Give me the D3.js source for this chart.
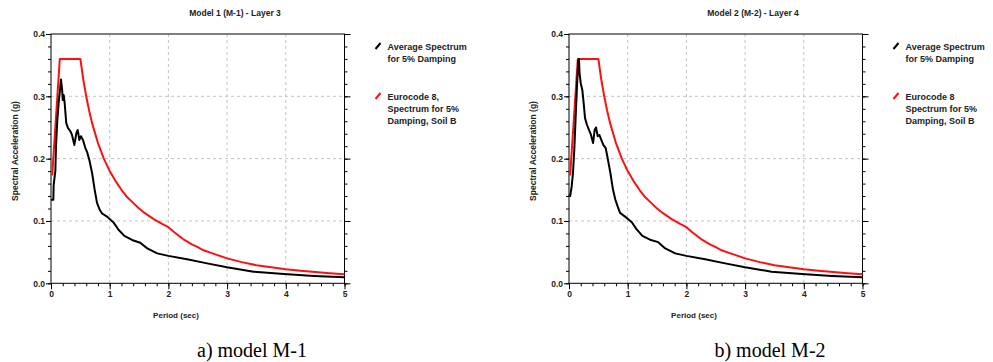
<!DOCTYPE html>
<html>
<head>
<meta charset="utf-8">
<script src="https://cdn.jsdelivr.net/npm/d3@7"></script>
<style>
  body { margin: 0; background: #fff; }
  text { font-family: "Liberation Sans", Arial, sans-serif; }
  text.caption { font-family: "Liberation Serif", "Times New Roman", serif; }
</style>
</head>
<body>
<div id="chart"></div>
<script>
const width = 993, height = 362;

// Eurocode 8 spectrum (same in both panels)
const ecPeriod = [0.02, 0.15, 0.5, 0.55, 0.6, 0.65, 0.7, 0.8, 0.9, 1.0, 1.1, 1.2, 1.3, 1.4, 1.5, 1.6, 1.75, 1.9, 2.0, 2.1, 2.25, 2.4, 2.5, 2.6, 2.75, 3.0, 3.25, 3.5, 3.75, 4.0, 4.25, 4.5, 4.75, 5.0];
const ecValue  = [0.173, 0.36, 0.36, 0.327, 0.30, 0.277, 0.257, 0.225, 0.20, 0.18, 0.164, 0.15, 0.138, 0.129, 0.12, 0.1125, 0.103, 0.095, 0.09, 0.082, 0.071, 0.0625, 0.058, 0.053, 0.048, 0.04, 0.034, 0.029, 0.0256, 0.0225, 0.02, 0.018, 0.016, 0.0144];

// Average spectrum, model M-1
const m1Period = [0, 0.04, 0.045, 0.074, 0.085, 0.108, 0.13, 0.153, 0.17, 0.19, 0.2, 0.216, 0.233, 0.26, 0.29, 0.33, 0.358, 0.398, 0.432, 0.455, 0.483, 0.51, 0.545, 0.585, 0.614, 0.653, 0.7, 0.744, 0.784, 0.83, 0.87, 0.955, 1.07, 1.15, 1.25, 1.38, 1.52, 1.64, 1.81, 2.0, 2.32, 2.66, 3.0, 3.45, 3.97, 4.48, 5.0];
const m1Value  = [0.134, 0.134, 0.158, 0.18, 0.22, 0.262, 0.289, 0.31, 0.327, 0.31, 0.294, 0.302, 0.289, 0.257, 0.249, 0.244, 0.238, 0.222, 0.241, 0.246, 0.23, 0.236, 0.23, 0.217, 0.211, 0.198, 0.177, 0.15, 0.129, 0.118, 0.112, 0.107, 0.097, 0.086, 0.076, 0.0695, 0.065, 0.056, 0.048, 0.044, 0.0385, 0.032, 0.0257, 0.0187, 0.015, 0.0118, 0.0096];

// Average spectrum, model M-2
const m2Period = [0, 0.02, 0.045, 0.068, 0.09, 0.114, 0.136, 0.16, 0.17, 0.18, 0.2, 0.227, 0.25, 0.273, 0.307, 0.34, 0.375, 0.41, 0.437, 0.46, 0.49, 0.517, 0.55, 0.585, 0.625, 0.66, 0.705, 0.75, 0.79, 0.83, 0.87, 0.955, 1.07, 1.15, 1.25, 1.38, 1.52, 1.64, 1.81, 2.0, 2.32, 2.66, 3.0, 3.45, 3.97, 4.48, 5.0];
const m2Value  = [0.142, 0.14, 0.155, 0.177, 0.214, 0.268, 0.316, 0.358, 0.36, 0.337, 0.321, 0.31, 0.289, 0.265, 0.254, 0.246, 0.238, 0.225, 0.246, 0.25, 0.236, 0.238, 0.23, 0.222, 0.217, 0.2, 0.177, 0.15, 0.134, 0.123, 0.113, 0.107, 0.098, 0.087, 0.076, 0.07, 0.066, 0.056, 0.048, 0.044, 0.0385, 0.032, 0.0257, 0.0187, 0.015, 0.0118, 0.0096];

const xTicks = [0, 1, 2, 3, 4, 5];
const yTicks = [0, 0.1, 0.2, 0.3, 0.4];

const panels = [
  {left: 51, title: "Model 1 (M-1) - Layer 3", caption: "a) model M-1", period: m1Period, value: m1Value,
   legend: [["Average Spectrum", "for 5% Damping"], ["Eurocode 8,", "Spectrum for 5%", "Damping, Soil B"]]},
  {left: 569, title: "Model 2 (M-2) - Layer 4", caption: "b) model M-2", period: m2Period, value: m2Value,
   legend: [["Average Spectrum", "for 5% Damping"], ["Eurocode 8", "Spectrum for 5%", "Damping, Soil B"]]}
];

const plotW = 293.5, plotTop = 34, plotBottom = 283.3;

const svg = d3.select("#chart").append("svg")
    .attr("width", width)
    .attr("height", height);

function drawPanel(p) {
  const x = d3.scaleLinear().domain([0, 5]).range([p.left, p.left + plotW]);
  const y = d3.scaleLinear().domain([0, 0.4]).range([plotBottom, plotTop]);
  const g = svg.append("g");

  // grid
  g.selectAll(".vgrid").data(xTicks.slice(1, -1)).enter().append("line")
    .attr("x1", d => x(d)).attr("x2", d => x(d))
    .attr("y1", plotTop).attr("y2", plotBottom)
    .attr("stroke", "#c4c4c4").attr("stroke-dasharray", "3,3");
  g.selectAll(".hgrid").data(yTicks.slice(1, -1)).enter().append("line")
    .attr("x1", p.left).attr("x2", p.left + plotW)
    .attr("y1", d => y(d)).attr("y2", d => y(d))
    .attr("stroke", "#c4c4c4").attr("stroke-dasharray", "3,3");

  // minor ticks
  g.append("g").attr("transform", `translate(0,${plotBottom})`)
    .call(d3.axisBottom(x).tickValues(d3.range(0, 5.01, 0.2)).tickSize(3).tickFormat(""))
    .call(a => a.select(".domain").remove());
  g.append("g").attr("transform", `translate(${p.left},0)`)
    .call(d3.axisLeft(y).tickValues(d3.range(0, 0.401, 0.02)).tickSize(3).tickFormat(""))
    .call(a => a.select(".domain").remove());
  g.append("g").attr("transform", `translate(${p.left + plotW},0)`)
    .call(d3.axisRight(y).tickValues(d3.range(0, 0.401, 0.02)).tickSize(3).tickFormat(""))
    .call(a => a.select(".domain").remove());

  // major ticks + labels
  const xa = g.append("g").attr("transform", `translate(0,${plotBottom})`)
    .call(d3.axisBottom(x).tickValues(xTicks).tickSize(6).tickPadding(2).tickFormat(d3.format("d")));
  const ya = g.append("g").attr("transform", `translate(${p.left},0)`)
    .call(d3.axisLeft(y).tickValues(yTicks).tickSize(5).tickPadding(1).tickFormat(d3.format(".1f")));
  g.append("g").attr("transform", `translate(${p.left + plotW},0)`)
    .call(d3.axisRight(y).tickValues(yTicks).tickSize(6).tickFormat(""))
    .call(a => a.select(".domain").remove());
  [xa, ya].forEach(a => {
    a.selectAll("text").attr("font-size", 8.5).attr("font-weight", "bold").attr("fill", "#222");
    a.select(".domain").remove();
  });

  // frame
  g.append("rect").attr("x", p.left).attr("y", plotTop)
    .attr("width", plotW).attr("height", plotBottom - plotTop)
    .attr("fill", "none").attr("stroke", "#000").attr("stroke-width", 1);

  const line = d3.line().x(d => x(d[0])).y(d => y(d[1]));

  g.append("path").datum(d3.zip(ecPeriod, ecValue))
    .attr("d", line).attr("fill", "none")
    .attr("stroke", "#ff1010").attr("stroke-width", 2).attr("stroke-linejoin", "round");
  g.append("path").datum(d3.zip(p.period, p.value))
    .attr("d", line).attr("fill", "none")
    .attr("stroke", "#000").attr("stroke-width", 2).attr("stroke-linejoin", "round");

  // titles
  g.append("text").attr("x", p.left + 184).attr("y", 16)
    .attr("text-anchor", "middle").attr("font-size", 8.5).attr("font-weight", "bold").attr("fill", "#222")
    .text(p.title);
  g.append("text").attr("transform", `translate(${p.left - 33},151) rotate(-90)`)
    .attr("text-anchor", "middle").attr("font-size", 8.5).attr("font-weight", "bold").attr("fill", "#222")
    .text("Spectral Acceleration (g)");
  g.append("text").attr("x", p.left + 125).attr("y", 318)
    .attr("text-anchor", "middle").attr("font-size", 8).attr("font-weight", "bold").attr("fill", "#222")
    .text("Period (sec)");
  g.append("text").attr("class", "caption").attr("x", p.left + 201).attr("y", 357)
    .attr("text-anchor", "middle").attr("font-size", 20).attr("fill", "#000")
    .text(p.caption);

  // legend
  const lx = p.left + plotW + 43;
  const legendColor = ["#000", "#ff1010"];
  const legendY = [47, 97];
  p.legend.forEach((lines, i) => {
    g.append("line").attr("x1", lx - 12).attr("y1", legendY[i] + 2)
      .attr("x2", lx - 7).attr("y2", legendY[i] - 4)
      .attr("stroke", legendColor[i]).attr("stroke-width", 2);
    lines.forEach((t, j) => {
      g.append("text").attr("x", lx).attr("y", legendY[i] + 3 + j * 12)
        .attr("font-size", 9).attr("font-weight", "bold").attr("fill", "#222")
        .text(t);
    });
  });
}

panels.forEach(drawPanel);
</script>
</body>
</html>
